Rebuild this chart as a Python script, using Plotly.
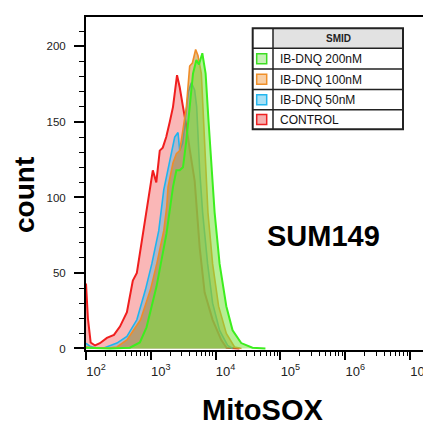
import plotly.graph_objects as go

# ---- data (MitoSOX intensity, cell count) ----
ctrl_x = [100, 107, 118, 138, 164, 210, 270, 334, 428, 528, 609, 702, 809, 899, 966, 1036, 1074,
          1216, 1375, 1530, 1730, 1960, 2202, 2540, 2793, 3140, 3455, 3981, 4753, 5678, 6776,
          8995, 12240, 14760, 23390]
ctrl_y = [43, 20, 4, 2, 3.5, 7, 9, 14.5, 24, 45, 50, 67, 83, 94, 103, 113, 118,
          110, 131, 133, 140, 150, 160, 181, 173, 160, 150, 132, 111, 67, 37,
          19, 5.6, 0.5, 0]

d50_x = [100, 115, 138, 189, 300, 428, 609, 828, 1036, 1327, 1585, 1960, 2339, 2630, 2793, 3105,
         3540, 3800, 4227, 4753, 5105, 5678, 6310, 7534, 8995, 11530, 15310, 18280]
d50_y = [3.4, 1.5, 0.5, 0.3, 3.6, 8, 19, 39, 56, 78, 105, 125, 140, 143, 131, 136,
         156, 170, 176, 171, 160, 118, 90, 56, 30, 12, 2, 0]

d100_x = [100, 164, 234, 300, 428, 695, 989, 1236, 1585, 1762, 1845, 2202, 2483, 2793, 3140, 3540,
          3981, 4385, 4922, 5342, 6026, 6531, 7194, 7622, 8995, 11120, 14630, 19590, 25120]
d100_y = [1, 0.3, 0.5, 1, 5.6, 19, 39, 56, 78, 94, 107, 123, 129, 131, 145, 160,
          187, 189, 198, 194, 182, 149, 105, 90, 56, 28, 10, 1, 0]

d200_x = [100, 234, 475, 678, 859, 1224, 1745, 2202, 2483, 2793, 3140, 3540, 3981, 4478, 5047,
          5534, 6237, 7015, 7798, 8670, 9660, 11530, 14630, 18280, 24830, 37070, 58750]
d200_y = [0.5, 0, 0.5, 4, 14, 41, 76, 107, 118, 118, 120, 138, 160, 182, 191,
          188, 195.5, 182, 150, 118, 90, 56, 28, 12, 3.6, 0.5, 0]

legend_header = "SMID"
legend_labels = ["IB-DNQ 200nM", "IB-DNQ 100nM", "IB-DNQ 50nM", "CONTROL"]
x_tick_vals = [1e2, 1e3, 1e4, 1e5, 1e6, 1e7]
x_tick_text = ["10<sup>2</sup>", "10<sup>3</sup>", "10<sup>4</sup>", "10<sup>5</sup>",
               "10<sup>6</sup>", "10<sup>7</sup>"]
y_tick_vals = [0, 50, 100, 150, 200]

# ---- styles ----
FONT = "Liberation Sans, Arial, sans-serif"
series = [
    (ctrl_x, ctrl_y, "CONTROL", "#f01e1e", "rgba(245,95,95,0.45)", 2),
    (d50_x, d50_y, "IB-DNQ 50nM", "#1eb4f0", "rgba(60,180,230,0.4)", 1.6),
    (d100_x, d100_y, "IB-DNQ 100nM", "#f08c28", "rgba(190,130,30,0.5)", 1.6),
    (d200_x, d200_y, "IB-DNQ 200nM", "#3cee1e", "rgba(120,225,60,0.55)", 2),
]
sq_style = {
    "IB-DNQ 200nM": ("#3cdd22", "#c5f0b5"),
    "IB-DNQ 100nM": ("#f0902a", "#f8cfa5"),
    "IB-DNQ 50nM": ("#22b5ee", "#a8e0f5"),
    "CONTROL": ("#ee2222", "#f5b0b0"),
}

fig = go.Figure()
for xs, ys, name, lc, fc, lw in series:
    fig.add_trace(go.Scatter(x=xs, y=ys, name=name, mode="lines", fill="tozeroy",
                             line=dict(color=lc, width=lw), fillcolor=fc))

W, H = 423, 428
ML, MT, MB = 86, 17, 78
PW, PH = W - ML, H - MT - MB


def px(x):
    return (x - ML) / PW


def py(y):
    return (H - MB - y) / PH


minor_vals = [m * 10 ** k for k in range(2, 7) for m in range(2, 10)]

fig.update_layout(
    width=W, height=H, margin=dict(l=ML, r=0, t=MT, b=MB, autoexpand=False),
    paper_bgcolor="white", plot_bgcolor="white", showlegend=False,
    font=dict(family=FONT, color="#111"),
    xaxis=dict(type="log", range=[2, 2 + PW / 64.8], tickvals=x_tick_vals, ticktext=x_tick_text,
               ticks="outside", ticklen=8, tickwidth=2, tickcolor="black", automargin=False,
               showline=True, linewidth=2, linecolor="black", mirror=True,
               showgrid=False, zeroline=False, ticklabelshift=10, ticklabeloverflow="allow",
               tickfont=dict(size=13, color="#222", family=FONT),
               minor=dict(tickvals=minor_vals, ticks="outside", ticklen=4, tickwidth=1,
                          tickcolor="black", showgrid=False)),
    yaxis=dict(range=[-1, 219.5], tickvals=y_tick_vals, ticks="outside", ticklen=10, tickwidth=2,
               tickcolor="black", showline=True, linewidth=2, linecolor="black", automargin=False,
               showgrid=False, zeroline=False, ticklabelstandoff=6,
               tickfont=dict(size=11.5, color="#222", family=FONT),
               minor=dict(dtick=10, tick0=0, ticks="outside", ticklen=5, tickwidth=1,
                          tickcolor="black", showgrid=False)),
)

ann = []
ann.append(dict(text="<b>count</b>", textangle=-90, xref="paper", yref="paper",
                x=px(25), y=py(195), showarrow=False, xanchor="center", yanchor="middle",
                font=dict(size=28, color="black", family=FONT)))
ann.append(dict(text="<b>MitoSOX</b>", xref="paper", yref="paper",
                x=px(262), y=py(410), showarrow=False, xanchor="center", yanchor="middle",
                font=dict(size=29, color="black", family=FONT)))
ann.append(dict(text="<b>SUM149</b>", xref="paper", yref="paper",
                x=px(323), y=py(236), showarrow=False, xanchor="center", yanchor="middle",
                font=dict(size=29, color="black", family=FONT)))

# ---- legend table ----
L0, L1, LD = 252.7, 403, 273
rows = [28.3, 48.3, 69.0, 89.5, 109.8, 129.3]
shapes = []
shapes.append(dict(type="rect", xref="paper", yref="paper", x0=px(LD), x1=px(L1),
                   y0=py(rows[0]), y1=py(rows[1]), fillcolor="#e2e2e2", line=dict(width=0)))
shapes.append(dict(type="rect", xref="paper", yref="paper", x0=px(L0), x1=px(LD),
                   y0=py(rows[0]), y1=py(rows[1]), fillcolor="white", line=dict(width=0)))
shapes.append(dict(type="rect", xref="paper", yref="paper", x0=px(L0), x1=px(L1),
                   y0=py(rows[-1]), y1=py(rows[0]), line=dict(color="#222", width=2),
                   fillcolor="rgba(0,0,0,0)"))
shapes.append(dict(type="line", xref="paper", yref="paper", x0=px(LD), x1=px(LD),
                   y0=py(rows[-1]), y1=py(rows[0]), line=dict(color="#222", width=1.5)))
for r in rows[1:-1]:
    shapes.append(dict(type="line", xref="paper", yref="paper", x0=px(L0), x1=px(L1),
                       y0=py(r), y1=py(r), line=dict(color="#222", width=1.5)))
ann.append(dict(text="<b>" + legend_header + "</b>", xref="paper", yref="paper",
                x=px((LD + L1) / 2), y=py((rows[0] + rows[1]) / 2), showarrow=False,
                xanchor="center", yanchor="middle", font=dict(size=10, color="#222", family=FONT)))
for i, lab in enumerate(legend_labels):
    yc = (rows[i + 1] + rows[i + 2]) / 2
    bc, fc = sq_style[lab]
    shapes.append(dict(type="rect", xref="paper", yref="paper", x0=px(256.7), x1=px(266.7),
                       y0=py(yc + 5), y1=py(yc - 5), fillcolor=fc, line=dict(color=bc, width=1.5)))
    ann.append(dict(text=lab, xref="paper", yref="paper", x=px(278), y=py(yc + 0.5),
                    showarrow=False, xanchor="left", yanchor="middle",
                    font=dict(size=12, color="#111", family=FONT)))

fig.update_layout(annotations=ann, shapes=shapes)
fig.write_html("out.html")
